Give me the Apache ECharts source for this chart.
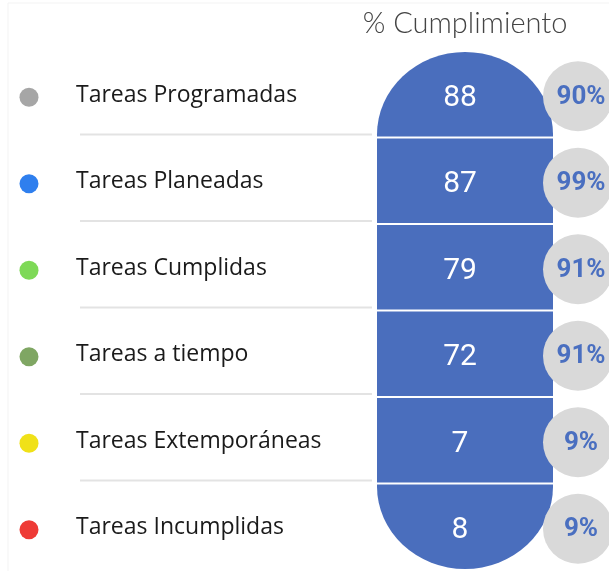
<!DOCTYPE html>
<html>
<head>
<meta charset="utf-8">
<script src="https://cdn.jsdelivr.net/npm/echarts@6/dist/echarts.min.js"></script>
<style>
  html, body { margin: 0; padding: 0; background: #fff; }
  #chart { width: 609px; height: 571px; }
</style>
</head>
<body>
<div id="chart"></div>
<script>
// categorías y valores
const categories = [
  'Tareas Programadas',
  'Tareas Planeadas',
  'Tareas Cumplidas',
  'Tareas a tiempo',
  'Tareas Extemporáneas',
  'Tareas Incumplidas'
];
const totals = [88, 87, 79, 72, 7, 8];
const cumplimiento = [90, 99, 91, 91, 9, 9];
const dotColors = ['#a6a6a6', '#2f7fee', '#7ed957', '#7fa663', '#f0e118', '#ee3b36'];

const BLUE = '#4a6ebd';

// medidas del dibujo (px)
const capLeft = 377;
const capWidth = 176;
const circleX = 578;

// forma de cada tramo: cúpula arriba, cúpula abajo o rectángulo
function segmentShape(idx, top, h) {
  const x0 = capLeft, x1 = capLeft + capWidth, rx = capWidth / 2;
  const y0 = top + 1, y1 = top + h - 1;
  if (idx === 0) {
    const ry = y1 - y0 - 2;
    return { type: 'path', shape: { pathData:
      'M' + x0 + ',' + y1 + ' L' + x0 + ',' + (y1 - 2) +
      ' A' + rx + ',' + ry + ' 0 0 1 ' + x1 + ',' + (y1 - 2) +
      ' L' + x1 + ',' + y1 + ' Z' } };
  }
  if (idx === categories.length - 1) {
    const ry = y1 - y0 - 2;
    return { type: 'path', shape: { pathData:
      'M' + x0 + ',' + y0 + ' L' + x1 + ',' + y0 + ' L' + x1 + ',' + (y0 + 2) +
      ' A' + rx + ',' + ry + ' 0 0 1 ' + x0 + ',' + (y0 + 2) + ' Z' } };
  }
  return { type: 'rect', shape: { x: x0, y: y0, width: capWidth, height: y1 - y0 } };
}

var myChart = echarts.init(document.getElementById('chart'));

myChart.setOption({
  animation: false,
  backgroundColor: '#fff',
  title: {
    text: '% Cumplimiento',
    left: 460,
    top: 4,
    textAlign: 'center',
    textStyle: {
      fontFamily: 'Lato',
      fontWeight: 300,
      fontSize: 29,
      color: '#444'
    }
  },
  grid: { left: 0, right: 0, top: 51, bottom: 1 },
  xAxis: { type: 'value', min: 0, max: 1, show: false },
  yAxis: {
    type: 'category',
    data: categories,
    inverse: true,
    show: false
  },
  graphic: [
    // marco tenue
    { type: 'line', shape: { x1: 8, y1: 3, x2: 609, y2: 3 }, style: { stroke: '#f3f3f3', lineWidth: 1 }, silent: true },
    { type: 'line', shape: { x1: 8, y1: 3, x2: 8, y2: 571 }, style: { stroke: '#f3f3f3', lineWidth: 1 }, silent: true }
  ],
  series: [
    {
      type: 'custom',
      encode: { x: 0, y: 1 },
      data: categories.map((c, i) => [0, i, totals[i], cumplimiento[i]]),
      renderItem: function (params, api) {
        const idx = api.value(1);
        const c = api.coord([0, idx]);
        const h = api.size([0, 1])[1];
        const cy = c[1];
        const top = cy - h / 2;
        const last = idx === categories.length - 1;

        const seg = segmentShape(idx, top, h);
        seg.style = { fill: BLUE };

        const children = [
          // punto de leyenda
          {
            type: 'circle',
            shape: { cx: 29, cy: cy + 3, r: 9.5 },
            style: { fill: dotColors[idx] }
          },
          {
            type: 'text',
            x: 76,
            y: cy + 1,
            style: {
              text: categories[idx],
              fontFamily: 'Open Sans',
              fontSize: 23,
              fill: '#1a1a1a',
              verticalAlign: 'middle',
              align: 'left'
            }
          },
          seg,
          {
            type: 'text',
            x: capLeft + capWidth / 2 - 5,
            y: cy + 4,
            style: {
              text: String(api.value(2)),
              fontFamily: 'Roboto',
              fontSize: 30,
              fill: '#fff',
              align: 'center',
              verticalAlign: 'middle'
            }
          },
          // círculo de porcentaje
          {
            type: 'circle',
            shape: { cx: circleX, cy: cy + 2, r: 35 },
            style: { fill: '#d9d9d9' }
          },
          {
            type: 'text',
            x: circleX + 3,
            y: cy + 3,
            style: {
              text: api.value(3) + '%',
              fontFamily: 'Roboto',
              fontWeight: 'bold',
              fontSize: 26,
              fill: '#4a6fc0',
              align: 'center',
              verticalAlign: 'middle'
            }
          }
        ];
        if (!last) {
          children.push({
            type: 'line',
            shape: { x1: 80, y1: top + h - 3, x2: 372, y2: top + h - 3 },
            style: { stroke: '#e3e3e3', lineWidth: 2 }
          });
        }
        return { type: 'group', children: children };
      }
    }
  ]
});
</script>
</body>
</html>
